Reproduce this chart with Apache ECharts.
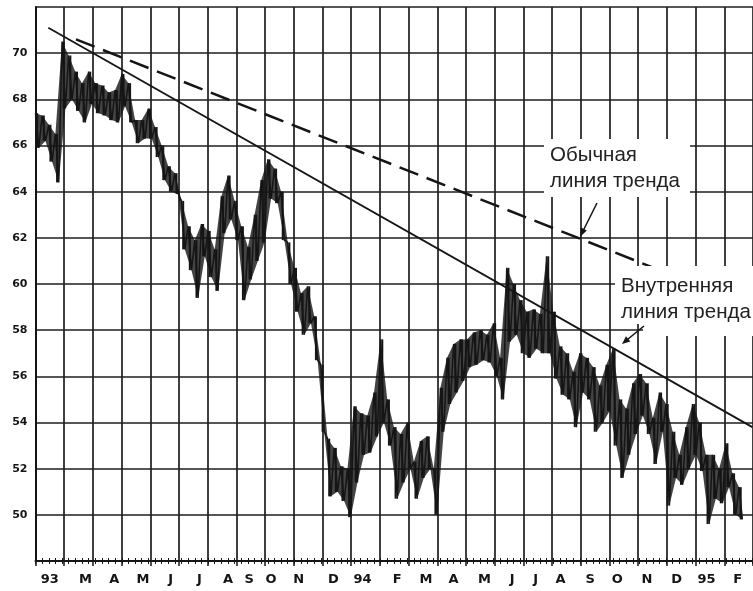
<!DOCTYPE html>
<html><head><meta charset="utf-8">
<script src="https://cdn.jsdelivr.net/npm/echarts@6/dist/echarts.min.js"></script>
<style>html,body{margin:0;padding:0;background:#fff;}#c{width:753px;height:591px;}</style>
</head><body><div id="c"></div>
<script>
// Month category labels (Feb 1993 .. Feb 1995)
const monthLabels = ['93','M','A','M','J','J','A','S','O','N','D','94','F','M','A','M','J','J','A','S','O','N','D','95','F'];
// Y tick labels shown
const yTickLabels = [50,52,54,56,58,60,62,64,66,68,70];
// Weekly high / low (week index 0..106)
const weekHigh = [67.4,67.3,66.9,66.5,70.5,69.9,69.2,68.7,69.2,68.7,68.6,68.3,68.4,69.1,68.7,67.1,67.1,67.6,66.8,66.0,
  65.1,64.8,63.6,62.5,61.9,62.6,62.3,61.5,63.8,64.7,63.6,62.5,61.6,63.0,64.5,65.4,65.0,64.0,61.8,60.7,
  59.6,59.9,58.6,56.5,53.3,52.9,52.1,52.0,54.7,54.4,54.3,55.3,57.6,55.0,53.8,53.5,54.0,52.3,53.2,53.4,
  52.0,55.5,56.8,57.4,57.6,57.6,57.9,58.0,57.8,58.3,56.8,60.7,60.0,59.3,58.8,58.9,58.7,61.2,58.8,57.3,
  57.0,56.2,57.0,56.8,56.4,55.6,56.5,57.2,55.0,54.6,55.7,56.1,55.7,54.2,55.3,54.8,53.6,52.6,53.8,54.8,
  54.0,52.6,52.6,52.0,53.1,51.8,51.2];
const weekLow = [65.9,66.2,65.3,64.4,67.6,68.0,67.5,67.0,67.8,67.4,67.3,67.1,67.0,67.7,67.0,66.1,66.3,66.3,65.5,64.5,
  64.0,63.9,61.5,60.6,59.4,61.2,60.3,59.7,62.2,62.8,61.9,59.3,60.2,61.0,61.8,63.7,63.5,61.9,60.0,58.8,
  57.8,58.3,56.7,53.6,50.8,51.0,50.6,49.9,51.4,52.6,52.7,53.4,54.0,53.0,50.7,51.4,52.0,50.7,51.6,52.0,
  50.0,53.6,54.8,55.3,55.8,56.4,56.5,56.7,56.6,56.0,55.0,57.5,57.8,57.0,56.8,57.2,57.0,57.0,55.9,55.2,
  55.0,53.8,55.3,55.0,53.6,54.0,54.5,53.0,51.6,52.6,53.5,54.3,53.5,52.2,53.6,50.4,51.6,51.3,52.0,52.6,
  51.9,49.6,50.7,50.5,51.2,50.0,49.8];
// Trend lines: [week, value]
const innerTrend = [[1.93,71.1],[108,53.8]];
const normalTrend = [[6.1,70.6],[93.15,60.7]];

// label placement nudges (px) to follow the hand-set month letters
const labelShift = [0,7,7,7,6,6,6,-1.5,-8.5,-9.5,-3.5,-3,3,3,2,4,3,-2,-6,-5,-6.5,-5.5,-4.5,-3.5,-1];

const zig = [];
weekHigh.forEach((h,i)=>{ zig.push([i,h]); zig.push([i+0.5, weekLow[i]]); });
const bars = weekHigh.map((h,i)=>[i+0.25, weekLow[i], h]);

const ink = '#151515';
const grid = '#1e1e1e';
const textFont = '20.5px "Liberation Sans", Arial, sans-serif';
const labFont = {fontFamily:'DejaVu Sans', fontWeight:'bold', fontSize:13, color:ink};
const rich = {};
labelShift.forEach((d,i)=>{
  rich['s'+i] = Object.assign({padding: d >= 0 ? [0,0,0,2*d] : [0,-2*d,0,0]}, labFont);
});

const chart = echarts.init(document.getElementById('c'), null, {renderer:'canvas'});
chart.setOption({
  animation:false,
  backgroundColor:'#fff',
  grid:{left:35.5, right:-9.25, top:7, bottom:30, containLabel:false},
  xAxis:[
    {type:'category', data:monthLabels, boundaryGap:true, position:'bottom',
     axisLine:{show:true, lineStyle:{color:ink, width:2}},
     axisTick:{show:true, length:5, interval:0, lineStyle:{color:ink, width:1.5}},
     axisLabel:Object.assign({show:true, interval:0, margin:12,
       formatter:(v,i)=>'{s'+i+'|'+v+'}', rich:rich}, labFont),
     splitLine:{show:true, interval:0, lineStyle:{color:grid, width:1.7}}},
    {type:'value', min:0, max:108.1, interval:1, position:'bottom',
     axisLine:{show:false}, axisLabel:{show:false}, splitLine:{show:false},
     axisTick:{show:true, length:3, lineStyle:{color:ink, width:1}}},
    {type:'value', min:0, max:108.1, interval:1, position:'bottom',
     axisLine:{show:false}, axisLabel:{show:false}, splitLine:{show:false},
     axisTick:{show:true, inside:true, length:3, lineStyle:{color:ink, width:1}}}
  ],
  yAxis:{type:'value', min:48, max:72, interval:2,
    axisLine:{show:true, lineStyle:{color:ink, width:2}},
    axisTick:{show:false},
    axisLabel:{formatter:v => yTickLabels.includes(v) ? String(v) : '', margin:8,
      fontFamily:'DejaVu Sans', fontWeight:'bold', fontSize:11, color:ink},
    splitLine:{show:true, lineStyle:{color:grid, width:1.7}}},
  series:[
    {type:'custom', xAxisIndex:1, data:[[0, weekLow[0], weekHigh[0]]], z:3,
     encode:{x:0, y:[1,2]},
     renderItem:(params, api)=>{
       const pts = [];
       weekHigh.forEach((h,i)=>pts.push(api.coord([i, h])));
       for (let i = weekLow.length-1; i >= 0; i--) pts.push(api.coord([i+0.5, weekLow[i]]));
       return {type:'polygon', shape:{points:pts}, style:{fill:ink, opacity:0.8}};
     }},
    {type:'custom', xAxisIndex:1, data:bars, z:3,
     encode:{x:0, y:[1,2]},
     renderItem:(params, api)=>{
       const p1 = api.coord([api.value(0), api.value(1)]);
       const p2 = api.coord([api.value(0), api.value(2)]);
       return {type:'line', shape:{x1:p1[0], y1:p1[1], x2:p2[0], y2:p2[1]},
               style:{stroke:ink, lineWidth:2}};
     }},
    {type:'line', xAxisIndex:1, data:zig, symbol:'none', lineStyle:{color:ink, width:1.5}, z:3},
    {type:'line', xAxisIndex:1, data:innerTrend, symbol:'none', lineStyle:{color:ink, width:1.8}, z:4},
    {type:'line', xAxisIndex:1, data:normalTrend, symbol:'none', lineStyle:{color:ink, width:2.5, type:[20,9]}, z:4}
  ],
  graphic:[
    {type:'rect', shape:{x:544, y:139, width:146, height:58}, style:{fill:'#fff'}, z:100},
    {type:'rect', shape:{x:615, y:266, width:145, height:58}, style:{fill:'#fff'}, z:100},
    {type:'rect', shape:{x:643, y:322, width:120, height:14}, style:{fill:'#fff'}, z:100},
    {type:'text', x:550, y:142, style:{text:'Обычная\nлиния тренда', font:textFont, fill:'#222', lineHeight:26}, z:101},
    {type:'text', x:621, y:273, style:{text:'Внутренняя\nлиния тренда', font:textFont, fill:'#222', lineHeight:26}, z:101},
    {type:'line', shape:{x1:597, y1:203, x2:582, y2:233}, style:{stroke:ink, lineWidth:1.6}, z:101},
    {type:'polygon', shape:{points:[[580,237],[586.8,230.5],[580.6,227.3]]}, style:{fill:ink}, z:101},
    {type:'line', shape:{x1:644, y1:326, x2:625, y2:341.5}, style:{stroke:ink, lineWidth:1.6}, z:101},
    {type:'polygon', shape:{points:[[622,344],[630.4,341.6],[626,336.2]]}, style:{fill:ink}, z:101}
  ]
});
</script></body></html>
